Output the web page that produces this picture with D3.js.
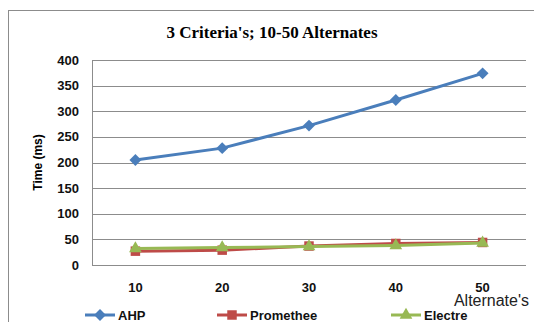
<!DOCTYPE html>
<html>
<head>
<meta charset="utf-8">
<script src="https://cdn.jsdelivr.net/npm/d3@7"></script>
<style>
  body { margin: 0; background: #fff; }
  svg { display: block; }
</style>
</head>
<body>
<script>
// chart values
var categories = [10, 20, 30, 40, 50];
var ahp = [205, 228, 272, 322, 374];
var promethee = [27, 29, 37, 42, 44];
var electre = [32, 34, 36, 38, 43];
var yTicks = [0, 50, 100, 150, 200, 250, 300, 350, 400];
var seriesNames = ["AHP", "Promethee", "Electre"];

var width = 534, height = 322;
var plotLeft = 92, plotRight = 526, plotTop = 60, plotBottom = 265;

var svg = d3.select("body").append("svg")
    .attr("width", width)
    .attr("height", height);

// outer chart frame (runs off the right and bottom edges)
svg.append("rect")
    .attr("x", 8.5).attr("y", 10.5)
    .attr("width", 600).attr("height", 400)
    .attr("fill", "none")
    .attr("stroke", "#8c8c8c")
    .attr("stroke-width", 1);

svg.append("text")
    .attr("x", 272).attr("y", 38)
    .attr("text-anchor", "middle")
    .style("font-family", "'Liberation Serif', 'Times New Roman', serif")
    .style("font-weight", "bold")
    .style("font-size", "17px")
    .text("3 Criteria's;  10-50 Alternates");

var x = d3.scalePoint()
    .domain(categories)
    .range([plotLeft, plotRight])
    .padding(0.5);

var y = d3.scaleLinear()
    .domain([0, 400])
    .range([plotBottom, plotTop]);

// gridlines
svg.append("g")
    .selectAll("line")
    .data(yTicks.filter(function (d) { return d > 0; }))
    .enter().append("line")
    .attr("x1", plotLeft).attr("x2", plotRight)
    .attr("y1", function (d) { return Math.round(y(d)) + 0.5; })
    .attr("y2", function (d) { return Math.round(y(d)) + 0.5; })
    .attr("stroke", "#8c8c8c")
    .attr("stroke-width", 1);

// axes lines
svg.append("line")
    .attr("x1", plotLeft + 0.5).attr("x2", plotLeft + 0.5)
    .attr("y1", plotTop).attr("y2", plotBottom)
    .attr("stroke", "#8c8c8c");
svg.append("line")
    .attr("x1", plotLeft).attr("x2", plotRight)
    .attr("y1", Math.round(y(0)) + 0.5).attr("y2", Math.round(y(0)) + 0.5)
    .attr("stroke", "#8c8c8c");

var tickFont = "'Liberation Sans', Arial, sans-serif";

svg.append("g")
    .selectAll("text")
    .data(yTicks)
    .enter().append("text")
    .attr("x", plotLeft - 13)
    .attr("y", function (d) { return y(d) + 4.5; })
    .attr("text-anchor", "end")
    .style("font-family", tickFont)
    .style("font-weight", "bold")
    .style("font-size", "13px")
    .attr("fill", "#111")
    .text(function (d) { return d; });

svg.append("g")
    .selectAll("text")
    .data(categories)
    .enter().append("text")
    .attr("x", function (d) { return x(d); })
    .attr("y", 292)
    .attr("text-anchor", "middle")
    .style("font-family", tickFont)
    .style("font-weight", "bold")
    .style("font-size", "13px")
    .attr("fill", "#111")
    .text(function (d) { return d; });

svg.append("text")
    .attr("transform", "translate(42," + ((plotTop + plotBottom) / 2) + ") rotate(-90)")
    .attr("text-anchor", "middle")
    .style("font-family", tickFont)
    .style("font-weight", "bold")
    .style("font-size", "12px")
    .text("Time (ms)");

svg.append("text")
    .attr("x", 529).attr("y", 306)
    .attr("text-anchor", "end")
    .style("font-family", tickFont)
    .style("font-size", "16px")
    .attr("fill", "#222")
    .text("Alternate's");

var series = [
    { name: seriesNames[0], values: ahp, color: "#4a7ebb", shape: d3.symbolDiamond2, size: 90 },
    { name: seriesNames[1], values: promethee, color: "#be4b48", shape: d3.symbolSquare, size: 90 },
    { name: seriesNames[2], values: electre, color: "#98b954", shape: d3.symbolTriangle, size: 70 }
];

var line = d3.line()
    .x(function (d, i) { return x(categories[i]); })
    .y(function (d) { return y(d); });

series.forEach(function (s) {
    svg.append("path")
        .attr("d", line(s.values))
        .attr("fill", "none")
        .attr("stroke", s.color)
        .attr("stroke-width", 3);
    svg.append("g")
        .selectAll("path")
        .data(s.values)
        .enter().append("path")
        .attr("transform", function (d, i) {
            return "translate(" + x(categories[i]) + "," + y(d) + ")";
        })
        .attr("d", d3.symbol().type(s.shape).size(s.size))
        .attr("fill", s.color);
});

// legend
var legendX = [85, 217, 391];
var legend = svg.append("g");
series.forEach(function (s, i) {
    var g = legend.append("g").attr("transform", "translate(" + legendX[i] + ",315)");
    g.append("line")
        .attr("x1", 0).attr("x2", 30)
        .attr("stroke", s.color)
        .attr("stroke-width", 3);
    g.append("path")
        .attr("transform", "translate(15,0)")
        .attr("d", d3.symbol().type(s.shape).size(s.size))
        .attr("fill", s.color);
    g.append("text")
        .attr("x", 33).attr("y", 5)
        .style("font-family", tickFont)
        .style("font-weight", "bold")
        .style("font-size", "13px")
        .attr("fill", "#111")
        .text(s.name);
});
</script>
</body>
</html>
